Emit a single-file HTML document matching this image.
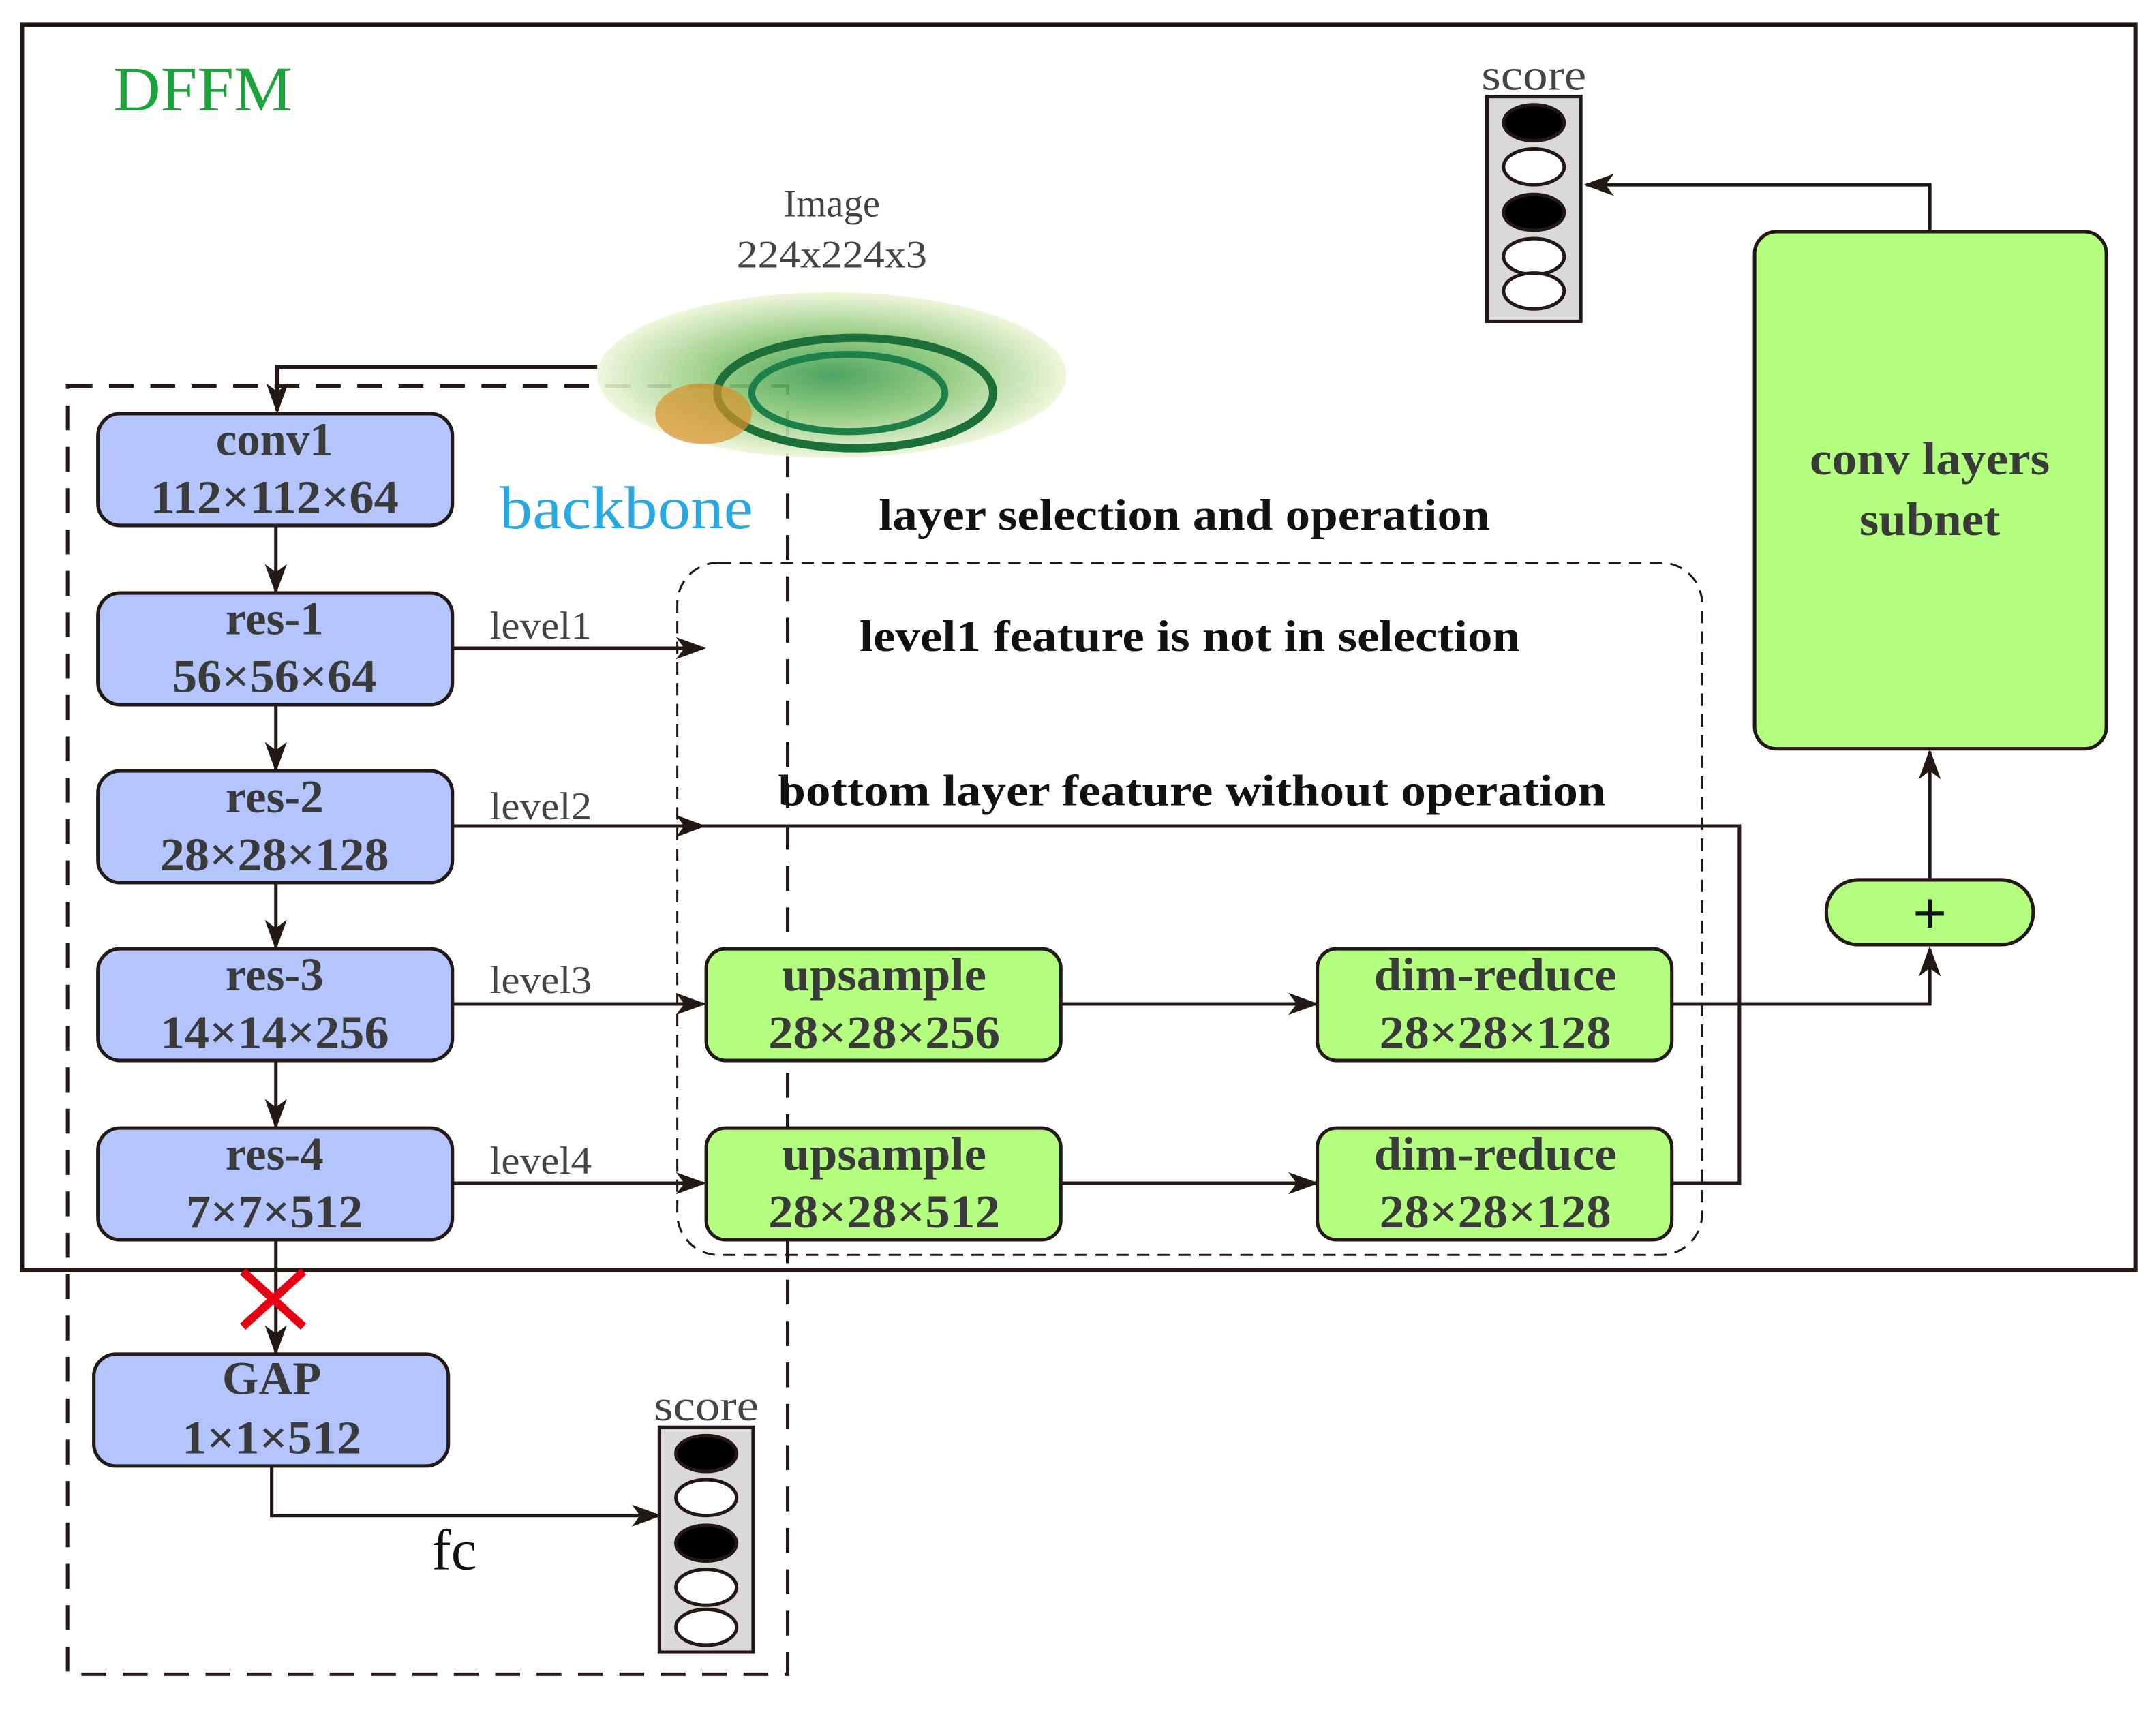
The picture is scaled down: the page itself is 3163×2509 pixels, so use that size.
<!DOCTYPE html>
<html><head><meta charset="utf-8"><style>
html,body{margin:0;padding:0;background:#fff;}
svg{display:block;}
text{font-family:"Liberation Serif",serif;}
</style></head><body>
<svg width="3163" height="2509" viewBox="0 0 1563 1240" preserveAspectRatio="none" xmlns="http://www.w3.org/2000/svg">
<defs>
<marker id="ah2" markerWidth="22" markerHeight="16" refX="20" refY="8" orient="auto" markerUnits="userSpaceOnUse">
<path d="M0,0 L22,8 L0,16 L6,8 Z" fill="#231815"/>
</marker>
<radialGradient id="bag" cx="50%" cy="50%" r="50%">
<stop offset="0" stop-color="#3a9a50"/><stop offset="0.5" stop-color="#8cc878"/><stop offset="1" stop-color="#eef5d8"/>
</radialGradient>
</defs>
<rect width="1563" height="1240" fill="#fff"/>
<rect x="16" y="18" width="1532" height="903" fill="none" stroke="#231815" stroke-width="3"/>
<text x="82" y="80" font-size="46" fill="#1aa53a" textLength="130" lengthAdjust="spacingAndGlyphs">DFFM</text>
<rect x="49" y="280" width="522" height="934" fill="none" stroke="#231815" stroke-width="2.5" stroke-dasharray="18,12"/>
<text x="603" y="157" font-size="28" fill="#444" text-anchor="middle">Image</text>
<text x="603" y="194" font-size="28" fill="#444" text-anchor="middle" textLength="138" lengthAdjust="spacingAndGlyphs">224x224x3</text>
<ellipse cx="603" cy="272" rx="170" ry="60" fill="url(#bag)" opacity="0.9"/>
<ellipse cx="620" cy="285" rx="100" ry="40" fill="none" stroke="#1d6f3a" stroke-width="6"/>
<ellipse cx="615" cy="285" rx="70" ry="28" fill="none" stroke="#1d7f4a" stroke-width="5"/>
<ellipse cx="510" cy="300" rx="35" ry="22" fill="#d9902a" opacity="0.7"/>
<path d="M433,266 L201,266 L201,298" fill="none" stroke="#231815" stroke-width="3" marker-end="url(#ah2)"/>
<text x="362" y="383" font-size="44" fill="#29a9e1" textLength="184" lengthAdjust="spacingAndGlyphs">backbone</text>
<g stroke="#231815" stroke-width="2.5" fill="#b4c4fc">
<rect x="71" y="300" width="257" height="81" rx="16"/>
<rect x="71" y="430" width="257" height="81" rx="16"/>
<rect x="71" y="559" width="257" height="81" rx="16"/>
<rect x="71" y="688" width="257" height="81" rx="16"/>
<rect x="71" y="818" width="257" height="81" rx="16"/>
<rect x="68" y="982" width="257" height="81" rx="16"/>
</g>
<g font-size="34" font-weight="bold" fill="#3a3a3a" text-anchor="middle">
<text x="199" y="330">conv1</text><text x="199" y="372" textLength="180" lengthAdjust="spacingAndGlyphs">112×112×64</text>
<text x="199" y="460">res-1</text><text x="199" y="502" textLength="148" lengthAdjust="spacingAndGlyphs">56×56×64</text>
<text x="199" y="589">res-2</text><text x="199" y="631" textLength="166" lengthAdjust="spacingAndGlyphs">28×28×128</text>
<text x="199" y="718">res-3</text><text x="199" y="760" textLength="166" lengthAdjust="spacingAndGlyphs">14×14×256</text>
<text x="199" y="848">res-4</text><text x="199" y="890" textLength="128" lengthAdjust="spacingAndGlyphs">7×7×512</text>
<text x="197" y="1011">GAP</text><text x="197" y="1054" textLength="130" lengthAdjust="spacingAndGlyphs">1×1×512</text>
</g>
<g stroke="#231815" stroke-width="2.5" fill="none" marker-end="url(#ah2)">
<line x1="200" y1="381" x2="200" y2="429"/>
<line x1="200" y1="511" x2="200" y2="558"/>
<line x1="200" y1="640" x2="200" y2="687"/>
<line x1="200" y1="769" x2="200" y2="817"/>
<line x1="200" y1="899" x2="200" y2="981"/>
</g>
<g stroke="#e60012" stroke-width="6"><line x1="176" y1="922" x2="220" y2="962"/><line x1="220" y1="922" x2="176" y2="962"/></g>
<g stroke="#231815" stroke-width="2.5" fill="none">
<line x1="328" y1="470" x2="510" y2="470" marker-end="url(#ah2)"/>
<line x1="328" y1="599" x2="510" y2="599" marker-end="url(#ah2)"/>
<line x1="328" y1="728" x2="510" y2="728" marker-end="url(#ah2)"/>
<line x1="328" y1="858" x2="510" y2="858" marker-end="url(#ah2)"/>
<line x1="768" y1="728" x2="954" y2="728" marker-end="url(#ah2)"/>
<line x1="768" y1="858" x2="954" y2="858" marker-end="url(#ah2)"/>
<polyline points="510,599 1261,599 1261,858 1212,858"/>
<polyline points="1212,728 1399,728 1399,688" marker-end="url(#ah2)"/>
<line x1="1399" y1="638" x2="1399" y2="545" marker-end="url(#ah2)"/>
<polyline points="1399,168 1399,134 1150,134" marker-end="url(#ah2)"/>
<polyline points="197,1063 197,1099 478,1099" marker-end="url(#ah2)"/>
</g>
<g font-size="28" fill="#444">
<text x="355" y="463" textLength="74" lengthAdjust="spacingAndGlyphs">level1</text><text x="355" y="594" textLength="74" lengthAdjust="spacingAndGlyphs">level2</text>
<text x="355" y="720" textLength="74" lengthAdjust="spacingAndGlyphs">level3</text><text x="355" y="851" textLength="74" lengthAdjust="spacingAndGlyphs">level4</text>
</g>
<rect x="491" y="408" width="743" height="502" rx="30" fill="none" stroke="#231815" stroke-width="1.5" stroke-dasharray="9,6"/>
<g font-size="32" font-weight="bold" fill="#111">
<text x="637" y="384" textLength="443" lengthAdjust="spacingAndGlyphs">layer selection and operation</text>
<text x="623" y="472" textLength="479" lengthAdjust="spacingAndGlyphs">level1 feature is not in selection</text>
<text x="564" y="584" textLength="600" lengthAdjust="spacingAndGlyphs">bottom layer feature without operation</text>
</g>
<g stroke="#231815" stroke-width="2.5" fill="#b4ff80">
<rect x="512" y="688" width="257" height="81" rx="14"/>
<rect x="512" y="818" width="257" height="81" rx="14"/>
<rect x="955" y="688" width="257" height="81" rx="14"/>
<rect x="955" y="818" width="257" height="81" rx="14"/>
<rect x="1272" y="168" width="255" height="375" rx="16"/>
<rect x="1324" y="638" width="150" height="47" rx="23"/>
</g>
<g font-size="34" font-weight="bold" fill="#3a3a3a" text-anchor="middle">
<text x="641" y="718" textLength="148" lengthAdjust="spacingAndGlyphs">upsample</text><text x="641" y="760" textLength="168" lengthAdjust="spacingAndGlyphs">28×28×256</text>
<text x="641" y="848" textLength="148" lengthAdjust="spacingAndGlyphs">upsample</text><text x="641" y="890" textLength="168" lengthAdjust="spacingAndGlyphs">28×28×512</text>
<text x="1084" y="718" textLength="176" lengthAdjust="spacingAndGlyphs">dim-reduce</text><text x="1084" y="760" textLength="168" lengthAdjust="spacingAndGlyphs">28×28×128</text>
<text x="1084" y="848" textLength="176" lengthAdjust="spacingAndGlyphs">dim-reduce</text><text x="1084" y="890" textLength="168" lengthAdjust="spacingAndGlyphs">28×28×128</text>
<text x="1399" y="344" textLength="174" lengthAdjust="spacingAndGlyphs">conv layers</text><text x="1399" y="388" textLength="102" lengthAdjust="spacingAndGlyphs">subnet</text>
<text x="1399" y="677" font-size="44" fill="#111">+</text>
</g>
<text x="1112" y="65" font-size="32" fill="#444" text-anchor="middle" textLength="76" lengthAdjust="spacingAndGlyphs">score</text>
<rect x="1078" y="70" width="68" height="163" fill="#d9d9d9" stroke="#231815" stroke-width="2.5"/>
<g stroke="#231815" stroke-width="2.5">
<ellipse cx="1112" cy="89" rx="22" ry="13" fill="#000"/>
<ellipse cx="1112" cy="121" rx="22" ry="13" fill="#fff"/>
<ellipse cx="1112" cy="154" rx="22" ry="13" fill="#000"/>
<ellipse cx="1112" cy="186" rx="22" ry="13" fill="#fff"/>
<ellipse cx="1112" cy="211" rx="22" ry="13" fill="#fff"/>
</g>
<text x="512" y="1030" font-size="32" fill="#444" text-anchor="middle" textLength="76" lengthAdjust="spacingAndGlyphs">score</text>
<rect x="478" y="1035" width="68" height="163" fill="#d9d9d9" stroke="#231815" stroke-width="2.5"/>
<g stroke="#231815" stroke-width="2.5">
<ellipse cx="512" cy="1054" rx="22" ry="13" fill="#000"/>
<ellipse cx="512" cy="1086" rx="22" ry="13" fill="#fff"/>
<ellipse cx="512" cy="1119" rx="22" ry="13" fill="#000"/>
<ellipse cx="512" cy="1151" rx="22" ry="13" fill="#fff"/>
<ellipse cx="512" cy="1180" rx="22" ry="13" fill="#fff"/>
</g>
<text x="313" y="1138" font-size="42" fill="#111">fc</text>
</svg>
</body></html>
